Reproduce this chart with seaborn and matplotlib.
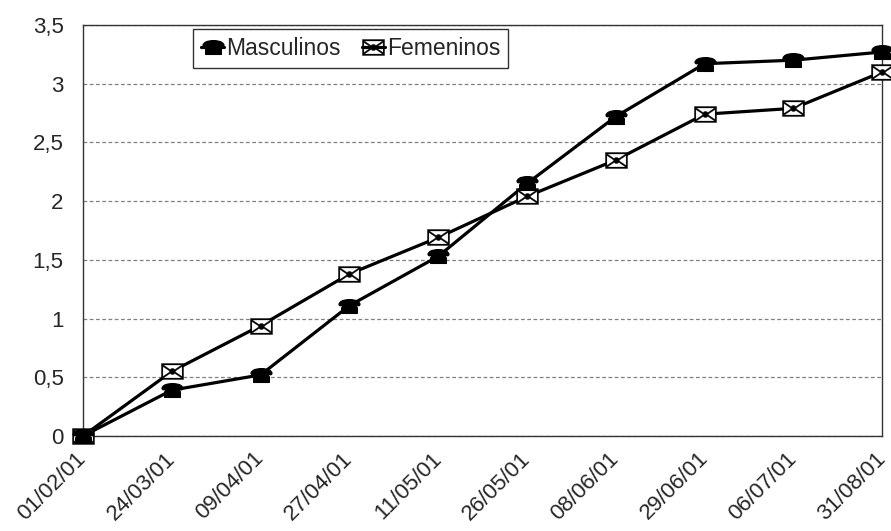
import numpy as np
import pandas as pd
import matplotlib
matplotlib.use("Agg")
import matplotlib.pyplot as plt
from matplotlib.lines import Line2D
from matplotlib.ticker import FuncFormatter, MultipleLocator
import seaborn as sns

# Data
fechas = ['01/02/01', '24/03/01', '09/04/01', '27/04/01', '11/05/01',
          '26/05/01', '08/06/01', '29/06/01', '06/07/01', '31/08/01']
masculinos = [0, 0.39, 0.52, 1.11, 1.53, 2.15, 2.72, 3.17, 3.20, 3.27]
femeninos = [0, 0.55, 0.94, 1.38, 1.69, 2.04, 2.35, 2.74, 2.79, 3.10]

sns.set_style("white")
plt.rcParams['font.family'] = ['Liberation Sans', 'DejaVu Sans']

df = pd.DataFrame({'pos': range(len(fechas)), 'fecha': fechas,
                   'Masculinos': masculinos, 'Femeninos': femeninos})
df_long = df.melt(id_vars=['pos', 'fecha'], var_name='serie', value_name='valor')

phone = '$\u260E$'
envelope = '$\u2709$'
box = [(-1, -0.68), (1, -0.68), (1, 0.68), (-1, 0.68)]  # white backing for envelope

fig = plt.figure(figsize=(8.91, 5.31), dpi=100)
ax = fig.add_axes([0.0932, 0.179, 0.897, 0.774])

# lines
sns.lineplot(data=df_long, x='pos', y='valor', hue='serie',
             palette={'Masculinos': 'black', 'Femeninos': 'black'},
             linewidth=2.3, legend=False, ax=ax, zorder=3)

# markers
ax.plot(df['pos'], df['Femeninos'], linestyle='none', marker=box,
        markersize=15, markerfacecolor='white', markeredgecolor='none',
        zorder=4, clip_on=False)
ax.plot(df['pos'], df['Femeninos'], linestyle='none', marker=envelope,
        markersize=16, color='black', markeredgewidth=0.2, zorder=5, clip_on=False)
ax.plot(df['pos'], df['Masculinos'], linestyle='none', marker=phone,
        markersize=15, color='black', zorder=5, clip_on=False)

ax.set_xlim(0, len(fechas) - 1)
ax.set_ylim(0, 3.5)
ax.yaxis.set_major_locator(MultipleLocator(0.5))
ax.yaxis.set_major_formatter(FuncFormatter(lambda v, p: ('%g' % v).replace('.', ',')))
ax.set_xticks(df['pos'])
ax.set_xticklabels(fechas, rotation=45, ha='right', va='center',
                   rotation_mode='anchor')
ax.tick_params(axis='both', length=0, labelsize=16)
ax.tick_params(axis='y', pad=14)
ax.tick_params(axis='x', pad=14)
ax.set_xlabel('')
ax.set_ylabel('')

ax.yaxis.grid(True, linestyle=(0, (3, 2)), color='#808080', linewidth=0.9)
ax.xaxis.grid(False)
for s in ax.spines.values():
    s.set_visible(True)
    s.set_color('#333333')
    s.set_linewidth(1.0)

handles = [
    Line2D([], [], color='black', linewidth=2.3, marker=phone, markersize=15),
    Line2D([], [], color='black', linewidth=2.3, marker=envelope, markersize=16,
           markeredgewidth=0.2),
]
leg = ax.legend(handles, ['Masculinos', 'Femeninos'], loc='upper left',
                bbox_to_anchor=(0.138, 0.99), ncol=2, frameon=True,
                fancybox=False, fontsize=16.5, handlelength=1.0,
                handletextpad=0.1, columnspacing=0.9, borderaxespad=0,
                borderpad=0.35)
leg.get_frame().set_edgecolor('black')
leg.get_frame().set_linewidth(1.0)

fig.savefig('out.png', dpi=100)
